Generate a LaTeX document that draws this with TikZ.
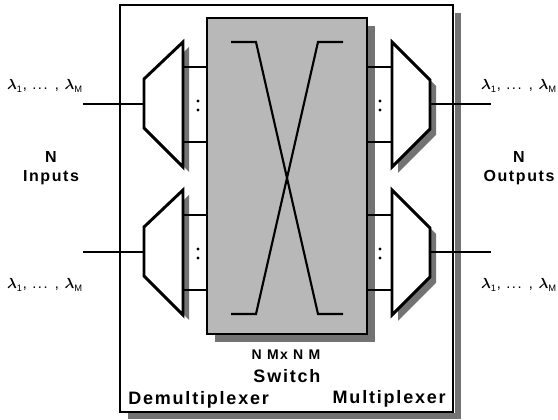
\documentclass[tikz,border=0pt]{standalone}
\usepackage{fontspec}
\setmainfont{Liberation Sans}[LetterSpace=10]
\usetikzlibrary{positioning}

\tikzset{
  boxshadow/.style={fill=black!55, draw=none},
  outerbox/.style={draw, line width=2.2pt},
  switchbox/.style={draw, line width=1.6pt, fill=black!28},
  wire/.style={line width=2pt},
  trap/.style={draw, line width=2.2pt, fill=white},
  trapshadow/.style={fill=black!55},
  demux/.pic={
    \fill[trapshadow, shift={(6,5)}] (0,-25) -- (39,-62) -- (39,63) -- (0,24) -- cycle;
    \draw[trap] (0,-25) -- (39,-62) -- (39,63) -- (0,24) -- cycle;
    \coordinate (-in) at (0,0);
    \coordinate (-a) at (39,-37);
    \coordinate (-b) at (39,38);
    \fill (54,-3) circle (1.3pt) (54,6) circle (1.3pt);
  },
  mux/.pic={
    \fill[trapshadow, shift={(6,6)}] (-38,-62) -- (0,-24) -- (0,25) -- (-38,63) -- cycle;
    \draw[trap] (-38,-62) -- (0,-24) -- (0,25) -- (-38,63) -- cycle;
    \coordinate (-out) at (0,0);
    \coordinate (-a) at (-38,-37);
    \coordinate (-b) at (-38,38);
    \fill (-50,-3) circle (1.3pt) (-50,6) circle (1.3pt);
  },
  lambda/.style={font=\fontsize{11}{12}\selectfont\boldmath},
  side/.style={align=center, font=\fontsize{12}{14.4}\selectfont\bfseries},
  big/.style={font=\fontsize{13.5}{16}\selectfont\bfseries},
}

\newcommand{\lamrange}{$\lambda_{\mbox{\scriptsize 1}}$, ... , $\lambda_{\mbox{\scriptsize M}}$}

\begin{document}
\begin{tikzpicture}[x=0.75pt, y=-0.75pt]
  \useasboundingbox (0,0) rectangle (558,420);

  % boxes with their shadows
  \draw [outerbox] (120,5) rectangle (453,412);
  \fill [boxshadow] (454.5,13) rectangle (461,419);
  \fill [boxshadow] (128,413.5) rectangle (461,419);
  \fill [boxshadow] (367,26) rectangle (375,342);
  \fill [boxshadow] (215,334) rectangle (375,342);
  \node (switch) [switchbox, minimum width=120pt, minimum height=237pt] at (287,176) {};

  % demultiplexers and multiplexers
  \pic (dmA) at (144,104) {demux};
  \pic (dmB) at (144,252) {demux};
  \pic (mxA) at (430,104) {mux};
  \pic (mxB) at (430,252) {mux};

  \coordinate (inA) at (83,104);
  \coordinate (inB) at (83,252);
  \coordinate (outA) at (491,104);
  \coordinate (outB) at (491,252);

  \draw [wire] (inA) -- (dmA-in);
  \draw [wire] (inB) -- (dmB-in);
  \draw [wire] (mxA-out) -- (outA);
  \draw [wire] (mxB-out) -- (outB);

  \draw [wire] (dmA-a) -- (dmA-a -| switch.west);
  \draw [wire] (dmA-b) -- (dmA-b -| switch.west);
  \draw [wire] (dmB-a) -- (dmB-a -| switch.west);
  \draw [wire] (dmB-b) -- (dmB-b -| switch.west);
  \draw [wire] (mxA-a) -- (mxA-a -| switch.east);
  \draw [wire] (mxA-b) -- (mxA-b -| switch.east);
  \draw [wire] (mxB-a) -- (mxB-a -| switch.east);
  \draw [wire] (mxB-b) -- (mxB-b -| switch.east);

  % crossing inside the switch
  \draw [line width=1.6pt] (231,42) -- (256,42) -- (318,314) -- (343,314);
  \draw [line width=1.6pt] (231,314) -- (256,314) -- (318,42) -- (343,42);

  % labels
  \node (lamInA) [lambda] at (45,86) {\lamrange};
  \node (lamInB) [lambda] at (45,285) {\lamrange};
  \node (lamOutA) [lambda] at (519,86) {\lamrange};
  \node (lamOutB) [lambda] at (519,285) {\lamrange};

  \node (inputs) [side] at (51,168) {N\\Inputs};
  \node (outputs) [side] at (519,168) {N\\Outputs};

  \node (size) [anchor=base, font=\fontsize{10.5}{12}\selectfont\bfseries] at (286,360) {N Mx N M};
  \node (swname) [big, anchor=base] at (287,383) {Switch};
  \node (demuxname) [big, anchor=base west, inner sep=0pt] at (128,405) {Demultiplexer};
  \node (muxname) [big, anchor=base east, inner sep=0pt] at (446,404) {Multiplexer};
\end{tikzpicture}
\end{document}
